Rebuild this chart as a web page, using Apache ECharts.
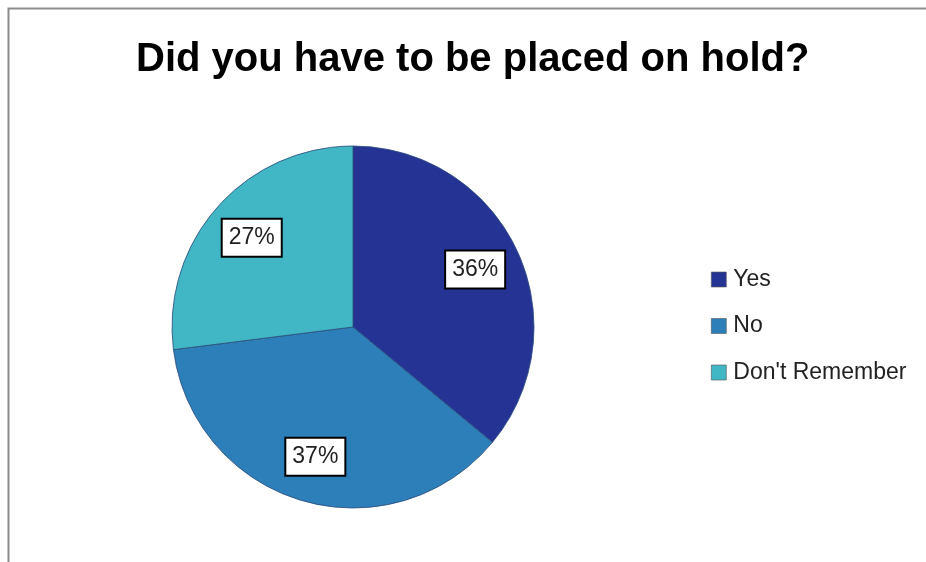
<!DOCTYPE html>
<html>
<head>
<meta charset="utf-8">
<script src="https://cdn.jsdelivr.net/npm/echarts@6/dist/echarts.min.js"></script>
<style>html,body{margin:0;padding:0;background:#fff;}#c{width:926px;height:562px;}</style>
</head>
<body>
<div id="c"></div>
<script>
const titleText = 'Did you have to be placed on hold?';
const categories = ['Yes', 'No', "Don't Remember"];
const values = [36, 37, 27];
const colors = ['#253494', '#2c7fb8', '#41b6c4'];

const chart = echarts.init(document.getElementById('c'));
const data = categories.map((n, i) => ({ name: n, value: values[i], itemStyle: { color: colors[i] } }));
chart.setOption({
  animation: false,
  graphic: [{
    type: 'rect', shape: { x: 8.5, y: 8.5, width: 1000, height: 1000 },
    style: { fill: 'none', stroke: '#8c8c8c', lineWidth: 2 }, silent: true, z: -1
  }],
  title: {
    text: titleText, left: 136, top: 40, padding: 0,
    textStyle: { fontFamily: 'Liberation Sans', fontWeight: 'bold', fontSize: 40, lineHeight: 40, color: '#000' }
  },
  legend: {
    orient: 'vertical', left: 711, top: 268, padding: 0, itemWidth: 15, itemHeight: 15, itemGap: 23.5,
    icon: 'rect',
    data: categories,
    textStyle: { fontFamily: 'Liberation Sans', fontSize: 23, lineHeight: 23, color: '#222', padding: [0, 0, 0, 2] },
    itemStyle: { borderColor: '#555', borderWidth: 0.6 }
  },
  series: [{
    type: 'pie', center: [353, 327], radius: [0, 181], startAngle: 90, clockwise: true,
    data: data, label: { show: false }, labelLine: { show: false },
    itemStyle: { borderColor: '#2a4a7a', borderWidth: 0.8 }, silent: true
  }, {
    type: 'pie', center: [353, 327], radius: [0, 264], startAngle: 90, clockwise: true,
    data: data.map(d => ({ name: d.name, value: d.value, itemStyle: { color: 'rgba(0,0,0,0)' } })),
    silent: true, legendHoverLink: false,
    label: {
      show: true, position: 'inside', formatter: '{c}%',
      fontFamily: 'Liberation Sans', fontSize: 23, lineHeight: 23, color: '#222',
      backgroundColor: '#fff', borderColor: '#000', borderWidth: 2, padding: [7, 6, 6, 6]
    },
    labelLine: { show: false }, itemStyle: { borderWidth: 0 }
  }]
});
</script>
</body>
</html>
